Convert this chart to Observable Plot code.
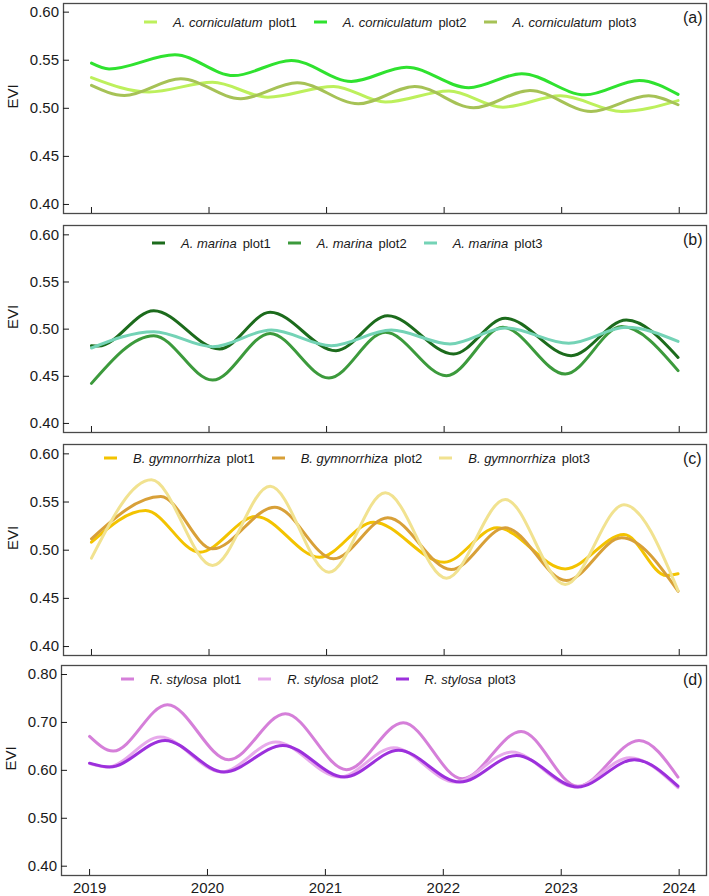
<!DOCTYPE html>
<html>
<head>
<meta charset="utf-8">
<script src="https://cdn.jsdelivr.net/npm/d3@7"></script>
<script src="https://cdn.jsdelivr.net/npm/@observablehq/plot@0.6"></script>
<style>
  body { margin: 0; background: #fff; }
  #chart { position: relative; width: 709px; height: 896px; font-family: "Liberation Sans", Arial, sans-serif; color: #1a1a1a; }
  #chart svg { position: absolute; left: 0; overflow: visible; }
  .legend { position: absolute; display: flex; align-items: center; font-size: 13px; white-space: nowrap; transform: translateY(-50%); color: #1a1a1a; }
  .legend .sw { display: inline-block; width: 13px; height: 3px; margin-right: 16px; }
  .legend .sp { font-style: italic; }
  .legend .pl { margin-left: 6px; }
  .legend .item { display: flex; align-items: center; margin-right: 17px; }
  .tag { position: absolute; font-size: 16px; transform: translateY(-50%); }
</style>
</head>
<body>
<div id="chart"></div>
<script>
// Shared time axis (decimal years) and tick labels
const yearTicks = [2019, 2020, 2021, 2022, 2023, 2024];
const eviTicksA = [0.40, 0.45, 0.50, 0.55, 0.60];
const eviTicksD = [0.40, 0.50, 0.60, 0.70, 0.80];

// Avicennia corniculatum — [year, EVI] at start, turning points and end
const acPlot1 = [[2019.0,0.532],[2019.49,0.517],[2020.03,0.527],[2020.50,0.5116],[2021.06,0.5228],[2021.50,0.5065],[2022.04,0.518],[2022.50,0.5012],[2022.99,0.513],[2023.51,0.4968],[2023.99,0.508]];
const acPlot2 = [[2019.0,0.547],[2019.15,0.541],[2019.71,0.5557],[2020.21,0.534],[2020.70,0.5498],[2021.21,0.528],[2021.68,0.5428],[2022.21,0.5214],[2022.66,0.536],[2023.20,0.514],[2023.66,0.529],[2023.99,0.5145]];
const acPlot3 = [[2019.0,0.5238],[2019.28,0.5134],[2019.76,0.5308],[2020.27,0.510],[2020.75,0.5266],[2021.27,0.5048],[2021.75,0.5228],[2022.25,0.5006],[2022.73,0.5186],[2023.25,0.4968],[2023.74,0.513],[2023.99,0.5037]];

// Avicennia marina
const amPlot1 = [[2019.0,0.4825],[2019.06,0.482],[2019.53,0.5196],[2020.09,0.479],[2020.52,0.5178],[2021.08,0.4772],[2021.52,0.5143],[2022.08,0.4737],[2022.52,0.5115],[2023.08,0.4719],[2023.55,0.5098],[2023.99,0.470]];
const amPlot2 = [[2019.0,0.4425],[2019.53,0.4931],[2020.03,0.446],[2020.52,0.4955],[2021.02,0.4482],[2021.50,0.4966],[2022.02,0.4506],[2022.50,0.5019],[2023.03,0.4524],[2023.51,0.5027],[2023.99,0.456]];
const amPlot3 = [[2019.0,0.480],[2019.53,0.4973],[2020.03,0.4814],[2020.53,0.4991],[2021.04,0.4825],[2021.55,0.499],[2022.05,0.4843],[2022.52,0.5013],[2023.06,0.485],[2023.55,0.5019],[2023.99,0.487]];

// Bruguiera gymnorrhiza
const bgPlot1 = [[2019.0,0.5083],[2019.46,0.5412],[2019.92,0.4979],[2020.40,0.5349],[2020.94,0.4927],[2021.40,0.529],[2022.00,0.4875],[2022.45,0.5232],[2023.03,0.4806],[2023.53,0.5162],[2023.89,0.4737],[2023.99,0.4755]];
const bgPlot2 = [[2019.0,0.5118],[2019.59,0.5557],[2020.03,0.5014],[2020.56,0.5446],[2021.06,0.491],[2021.52,0.5336],[2022.06,0.4799],[2022.52,0.5232],[2023.04,0.4685],[2023.51,0.5128],[2023.99,0.4574]];
const bgPlot3 = [[2019.0,0.4917],[2019.51,0.573],[2020.03,0.4841],[2020.52,0.5664],[2021.02,0.4771],[2021.50,0.5595],[2022.02,0.4709],[2022.52,0.5526],[2023.03,0.4644],[2023.53,0.5471],[2023.99,0.4581]];

// Rhizophora stylosa
const rsPlot1 = [[2019.0,0.6708],[2019.20,0.6402],[2019.66,0.7369],[2020.18,0.6222],[2020.66,0.7181],[2021.18,0.6015],[2021.66,0.6994],[2022.16,0.5827],[2022.66,0.6812],[2023.14,0.5667],[2023.66,0.6625],[2023.99,0.586]];
const rsPlot2 = [[2019.0,0.614],[2019.15,0.607],[2019.60,0.6694],[2020.12,0.5965],[2020.58,0.659],[2021.12,0.586],[2021.58,0.6473],[2022.10,0.5756],[2022.58,0.6381],[2023.12,0.5652],[2023.58,0.6265],[2023.99,0.564]];
const rsPlot3 = [[2019.0,0.615],[2019.17,0.607],[2019.64,0.6625],[2020.14,0.5965],[2020.64,0.652],[2021.16,0.586],[2021.62,0.6417],[2022.14,0.5756],[2022.62,0.6312],[2023.14,0.5652],[2023.62,0.6223],[2023.99,0.567]];

const panels = [
  { tag: "(a)", species: "A. corniculatum", top: 0, height: 218, mt: 3, mb: 5, ml: 63, yDomain: [0.3906, 0.609], yTicks: eviTicksA,
    series: [["plot1", "#bdf05c", acPlot1], ["plot2", "#2fe22f", acPlot2], ["plot3", "#a6c256", acPlot3]],
    legendY: 22, legendX: 144 },
  { tag: "(b)", species: "A. marina", top: 220, height: 217, mt: 5, mb: 5, ml: 63, yDomain: [0.3904, 0.6099], yTicks: eviTicksA,
    series: [["plot1", "#1c6b1c", amPlot1], ["plot2", "#3c9a3c", amPlot2], ["plot3", "#74d3b6", amPlot3]],
    legendY: 243, legendX: 152 },
  { tag: "(c)", species: "B. gymnorrhiza", top: 439, height: 221, mt: 5, mb: 5, ml: 63, yDomain: [0.3907, 0.6097], yTicks: eviTicksA,
    series: [["plot1", "#f3c300", bgPlot1], ["plot2", "#d8a038", bgPlot2], ["plot3", "#f1e290", bgPlot3]],
    legendY: 458, legendX: 104 },
  { tag: "(d)", species: "R. stylosa", top: 660, height: 236, mt: 5, mb: 21, ml: 61, yDomain: [0.3806, 0.8188], yTicks: eviTicksD,
    series: [["plot1", "#d57fd9", rsPlot1], ["plot2", "#e7aaeb", rsPlot2], ["plot3", "#9c30dc", rsPlot3]],
    legendY: 679, legendX: 121 }
];

const chart = document.getElementById("chart");
const fmt = d3.format(".2f");

panels.forEach((p, i) => {
  const last = i === panels.length - 1;
  const lines = p.series.map(([name, color, pts]) =>
    Plot.line(pts, { x: d => d[0], y: d => d[1], stroke: color, strokeWidth: 3, curve: "monotone-x" }));
  const svg = Plot.plot({
    width: 709, height: p.height,
    marginTop: p.mt, marginBottom: p.mb, marginLeft: p.ml, marginRight: 3,
    style: { fontFamily: "Liberation Sans, Arial, sans-serif", fontSize: "15px", color: "#1a1a1a", background: "transparent" },
    x: { domain: [2018.762, 2024.232] },
    y: { domain: p.yDomain },
    marks: [
      ...lines,
      Plot.frame({ stroke: "#4a4a4a", strokeWidth: 1.3 }),
      Plot.axisY(p.yTicks, { tickSize: -6, tickPadding: 10.5, tickFormat: fmt, label: null, fontSize: 15 }),
      Plot.axisX(yearTicks, { tickSize: -6, tickPadding: 13, label: null, fontSize: 15,
        tickFormat: last ? d3.format("d") : () => "" }),
      Plot.text(["EVI"], { frameAnchor: "left", rotate: -90, dx: -50, fontSize: 15, fill: "#1a1a1a" })
    ]
  });
  svg.style.top = p.top + "px";
  chart.appendChild(svg);

  // Legend row inside the frame
  const lg = document.createElement("div");
  lg.className = "legend";
  lg.style.left = p.legendX + "px";
  lg.style.top = p.legendY + "px";
  p.series.forEach(([name, color]) => {
    const it = document.createElement("span");
    it.className = "item";
    it.innerHTML = `<span class="sw" style="background:${color}"></span><span class="sp">${p.species}</span><span class="pl">${name}</span>`;
    lg.appendChild(it);
  });
  chart.appendChild(lg);

  const tag = document.createElement("div");
  tag.className = "tag";
  tag.textContent = p.tag;
  tag.style.left = "683px";
  tag.style.top = (p.top + p.mt + 15) + "px";
  chart.appendChild(tag);
});
</script>
</body>
</html>
